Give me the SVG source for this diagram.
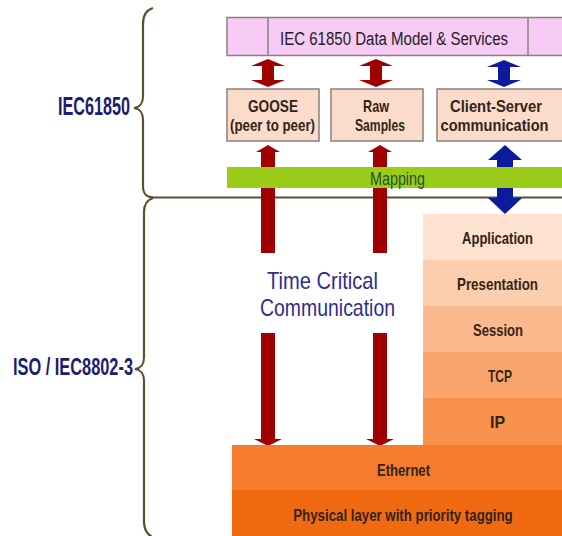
<svg xmlns="http://www.w3.org/2000/svg" width="562" height="536" viewBox="0 0 562 536">
<style>
.t{font-family:"Liberation Sans",Arial,sans-serif;}
.box{stroke:#8a8080;stroke-width:1.5;}
.mid{fill:#fbdccb;}
.lbl{font-family:"Liberation Sans",Arial,sans-serif;font-weight:bold;font-size:17px;fill:#332418;text-anchor:middle;}
.red{fill:#a00000;}
.blue{fill:#0c1b9c;}
.brace{fill:none;stroke:#5a5030;stroke-width:2.2;}
</style>
<rect width="562" height="536" fill="#ffffff"/>

<g id="braces">
<path class="brace" d="M153,8 C146,10 143,15 143,24 L143,96 C143,104 140,107 134,108 C140,109 143,112 143,120 L143,186 C143,194 146,197 153,197.5"/>
<path class="brace" d="M153,198 C147,200 144,204 144,212 L144,357 C144,365 141,368 135,369 C141,370 144,373 144,381 L144,522 C144,530 147,534 152,537"/>
<line x1="150" y1="197.5" x2="562" y2="197.5" stroke="#5a5030" stroke-width="2.2"/>
</g>

<g id="label-iec61850">
<text class="t" x="58" y="115" font-size="25" font-weight="bold" fill="#1c1c70" textLength="72" lengthAdjust="spacingAndGlyphs">IEC61850</text>
</g>
<g id="label-iso">
<text class="t" x="13" y="375" font-size="24" font-weight="bold" fill="#1c1c70" textLength="120" lengthAdjust="spacingAndGlyphs">ISO / IEC8802-3</text>
</g>

<g id="data-model">
<rect x="227" y="17.5" width="340" height="38" fill="#f7cbf5" class="box"/>
<line x1="268" y1="17.5" x2="268" y2="55.5" stroke="#8a8080" stroke-width="1.5"/>
<line x1="528" y1="17.5" x2="528" y2="55.5" stroke="#8a8080" stroke-width="1.5"/>
<text class="t" x="394" y="45" font-size="18" fill="#222222" text-anchor="middle" textLength="228" lengthAdjust="spacingAndGlyphs">IEC 61850 Data Model &amp; Services</text>
</g>

<g id="goose">
<rect x="227" y="89" width="92" height="52" class="box mid"/>
<text class="lbl" x="273" y="112" textLength="50" lengthAdjust="spacingAndGlyphs">GOOSE</text>
<text class="lbl" x="272.5" y="131" textLength="85" lengthAdjust="spacingAndGlyphs">(peer to peer)</text>
</g>
<g id="raw-samples">
<rect x="331" y="89" width="92" height="52" class="box mid"/>
<text class="lbl" x="376" y="112" textLength="26" lengthAdjust="spacingAndGlyphs">Raw</text>
<text class="lbl" x="380" y="131" textLength="50" lengthAdjust="spacingAndGlyphs">Samples</text>
</g>
<g id="client-server">
<rect x="437" y="89" width="130" height="52" class="box mid"/>
<text class="lbl" x="496" y="112" textLength="92" lengthAdjust="spacingAndGlyphs">Client-Server</text>
<text class="lbl" transform="translate(494.5,131) scale(0.86,1)" x="0" y="0">communication</text>
</g>

<g id="connectors">
<polygon class="red" points="268,59 285,66 274,66 274,80 285,80 268,87 251,80 262,80 262,66 251,66"/>
<polygon class="red" points="376,59 393,66 382,66 382,80 393,80 376,87 359,80 370,80 370,66 359,66"/>
<polygon class="blue" points="504,60 521,67 510,67 510,80 521,80 504,87 487,80 498,80 498,67 487,67"/>
<polygon class="blue" points="505,145 522,160 513,160 513,198 522,198 505,214 488,198 497,198 497,160 488,160"/>
<polygon class="red" points="268,145 280,152 275,152 275,253 261,253 261,152 256,152"/>
<polygon class="red" points="380,145 392,152 387,152 387,253 373,253 373,152 368,152"/>
<polygon class="red" points="261,333 275,333 275,439 282,439 268,446 254,439 261,439"/>
<polygon class="red" points="373,333 387,333 387,439 394,439 380,446 366,439 373,439"/>
</g>

<g id="mapping">
<rect x="227" y="167" width="340" height="21" fill="#9ccc1a"/>
<text class="t" x="397.5" y="185" font-size="19" fill="#1d5220" text-anchor="middle" textLength="55" lengthAdjust="spacingAndGlyphs">Mapping</text>
</g>

<g id="time-critical-label">
<text class="t" x="322.5" y="289" font-size="24" fill="#2e2e8c" text-anchor="middle" textLength="111" lengthAdjust="spacingAndGlyphs">Time Critical</text>
<text class="t" x="327.5" y="316" font-size="24" fill="#2e2e8c" text-anchor="middle" textLength="135" lengthAdjust="spacingAndGlyphs">Communication</text>
</g>

<g id="application">
<rect x="423" y="214" width="139" height="46" fill="#fde2cf"/>
<text class="lbl" x="497.5" y="244" textLength="71" lengthAdjust="spacingAndGlyphs">Application</text>
</g>
<g id="presentation">
<rect x="423" y="260" width="139" height="46" fill="#fcceae"/>
<text class="lbl" x="497.5" y="290" textLength="81" lengthAdjust="spacingAndGlyphs">Presentation</text>
</g>
<g id="session">
<rect x="423" y="306" width="139" height="46" fill="#fbb98e"/>
<text class="lbl" x="498" y="336" textLength="50" lengthAdjust="spacingAndGlyphs">Session</text>
</g>
<g id="tcp">
<rect x="423" y="352" width="139" height="46" fill="#f9a46a"/>
<text class="lbl" x="500" y="382" textLength="24" lengthAdjust="spacingAndGlyphs">TCP</text>
</g>
<g id="ip">
<rect x="423" y="398" width="139" height="47" fill="#f8914c"/>
<text class="lbl" x="497.5" y="428" textLength="15" lengthAdjust="spacingAndGlyphs">IP</text>
</g>
<g id="ethernet">
<rect x="232" y="445" width="330" height="45" fill="#f47c2c"/>
<text class="lbl" x="403.5" y="476" textLength="53" lengthAdjust="spacingAndGlyphs">Ethernet</text>
</g>
<g id="physical">
<rect x="232" y="490" width="330" height="46" fill="#f06a12"/>
<text class="lbl" transform="translate(403,521) scale(0.78,1)" x="0" y="0">Physical layer with priority tagging</text>
</g>
</svg>
